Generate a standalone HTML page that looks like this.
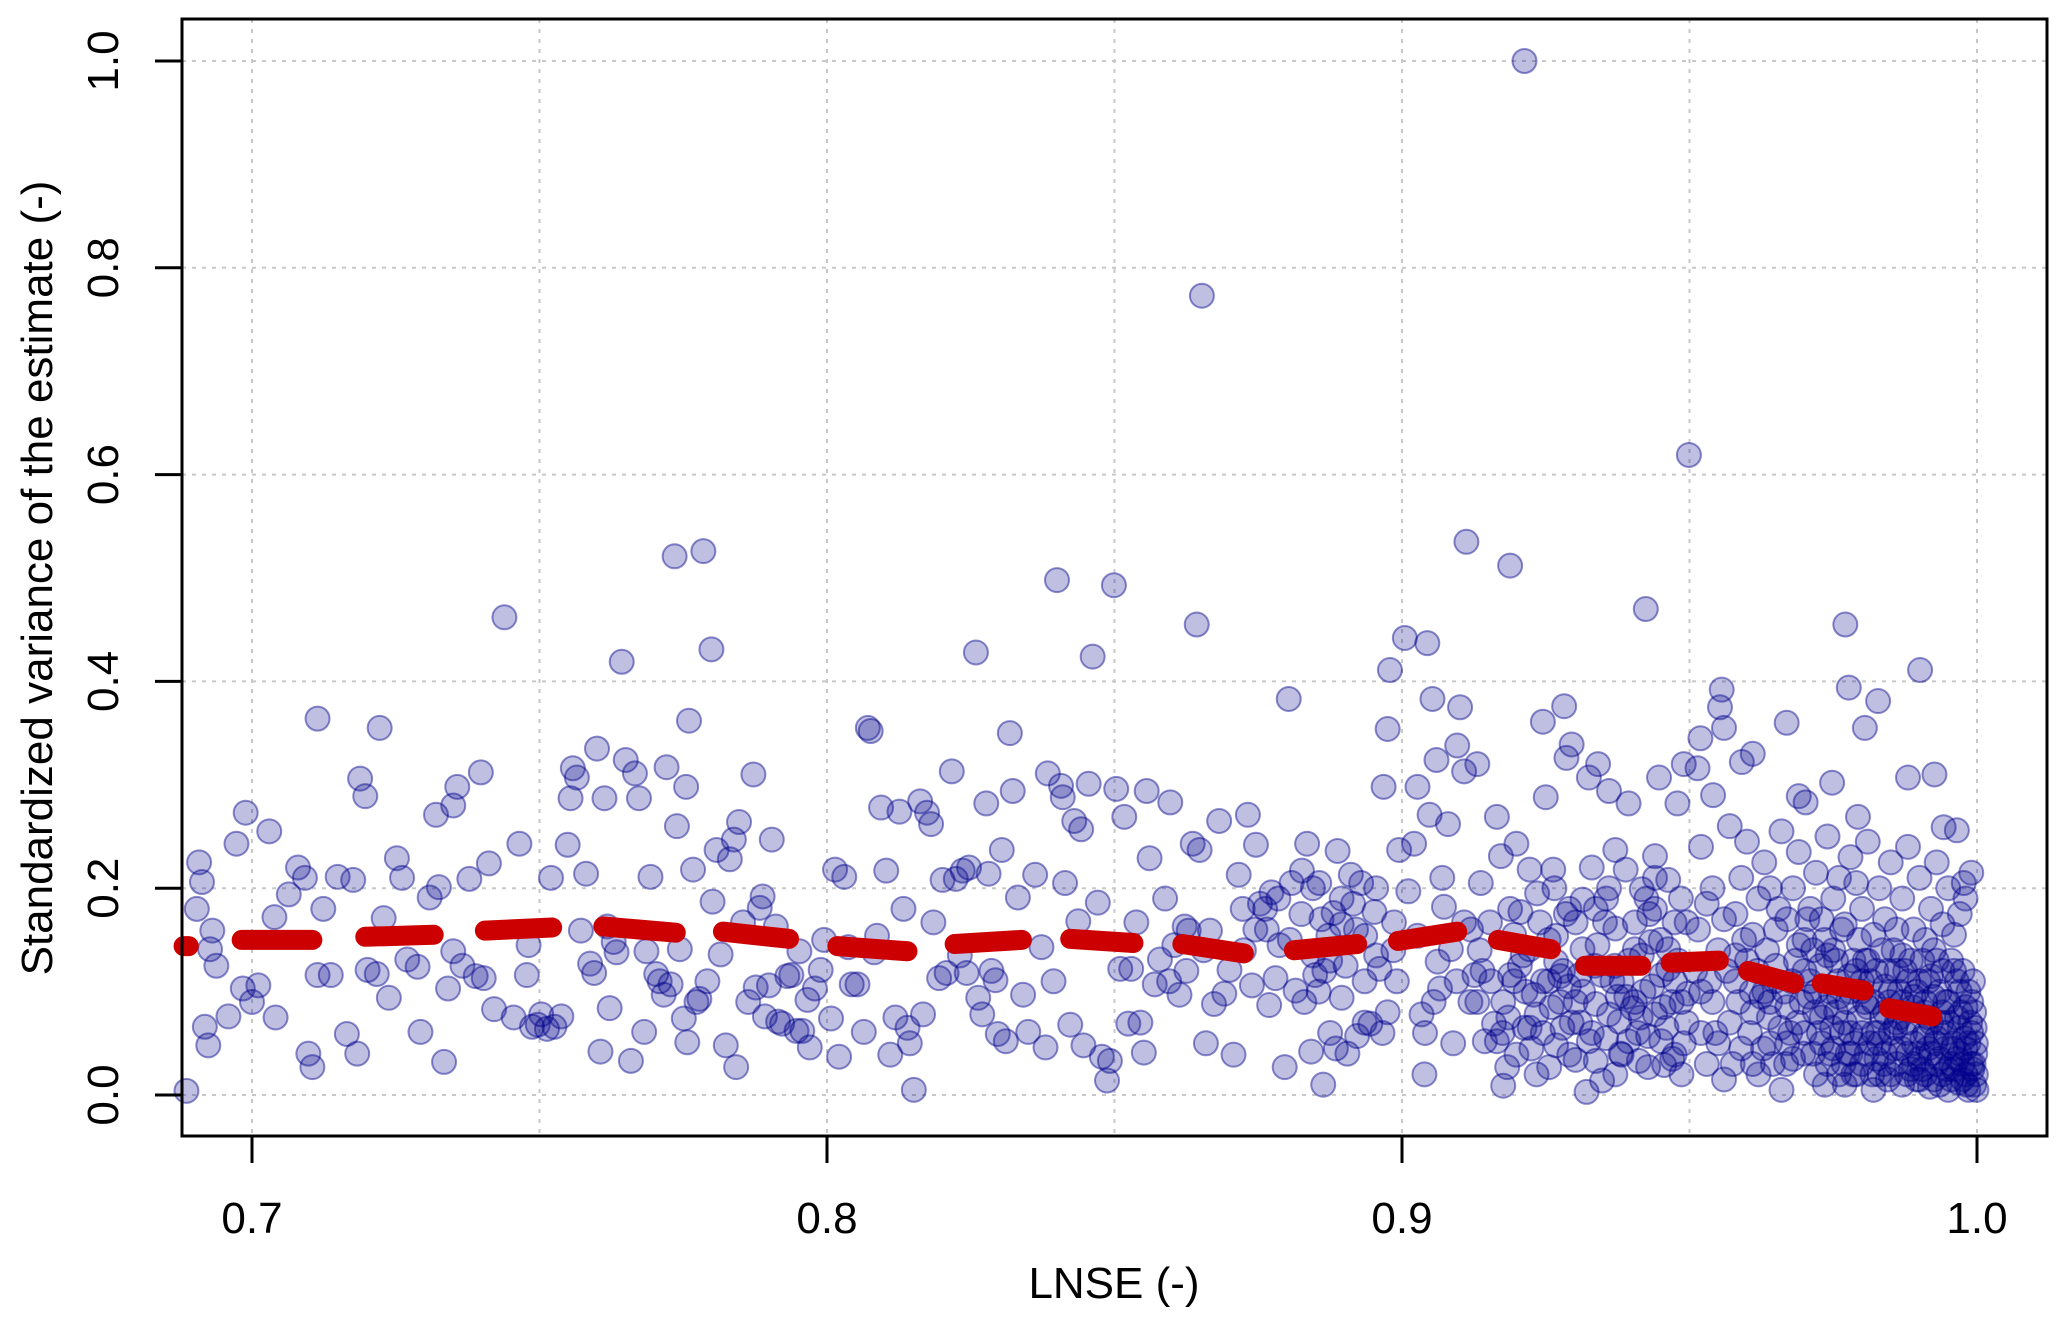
<!DOCTYPE html>
<html><head><meta charset="utf-8"><style>
html,body{margin:0;padding:0;background:#fff;}
svg{display:block;}
text{font-family:"Liberation Sans",sans-serif;fill:#000;}
</style></head><body>
<svg id="chart" width="2067" height="1319" viewBox="0 0 2067 1319" xmlns="http://www.w3.org/2000/svg">
<rect x="0" y="0" width="2067" height="1319" fill="#fff"/>
<g id="grid"></g>
<g id="points"></g>
<g id="trend"></g>
<g id="axes"></g>
<text x="1114" y="1298" font-size="44" text-anchor="middle">LNSE (-)</text>
<text transform="translate(52,578) rotate(-90)" font-size="44" text-anchor="middle">Standardized variance of the estimate (-)</text>
</svg>
<script>
const xTicks=[0.7,0.8,0.9,1.0];
const xTickLabels=["0.7","0.8","0.9","1.0"];
const xGrid=[0.7,0.75,0.8,0.85,0.9,0.95,1.0];
const yTicks=[0,0.2,0.4,0.6,0.8,1.0];
const yTickLabels=["0.0","0.2","0.4","0.6","0.8","1.0"];
const trendStartX=[0.6881,0.6982,0.7197,0.7405,0.7611,0.7819,0.8018,0.8222,0.8423,0.8618,0.8812,0.8993,0.9167,0.9318,0.9467,0.9602,0.973,0.9847];
const trendEndX=[0.6890,0.7105,0.7316,0.7522,0.7737,0.7934,0.814,0.8339,0.8533,0.8725,0.8922,0.9096,0.9259,0.9416,0.9551,0.9682,0.9803,0.9922];
const trendStartY=[0.144,0.150,0.153,0.159,0.163,0.158,0.144,0.146,0.151,0.146,0.140,0.149,0.150,0.125,0.128,0.120,0.108,0.084];
const trendEndY=[0.144,0.150,0.155,0.162,0.157,0.151,0.139,0.150,0.147,0.137,0.146,0.158,0.141,0.125,0.130,0.108,0.101,0.076];
const observations=[
[.6886,.004],[.6904,.18],[.6908,.225],[.6913,.206],[.6918,.066],[.6924,.048],[.6931,.159],[.6938,.125],[.6927,.141],[.6959,.076],[.6973,.243],[.6989,.273],[.6984,.103],[.7,.09],[.7011,.106],[.703,.255],[.7039,.172],[.7041,.075],[.7064,.194],[.708,.22],[.7092,.21],[.7098,.04],[.7105,.027],[.7114,.364],[.7114,.116],[.7124,.18],[.7137,.116],[.7149,.211],[.7165,.059],[.7176,.208],[.7183,.04],[.7188,.306],[.7197,.289],[.7201,.121],[.7217,.117],[.7222,.355],[.7229,.171],[.7238,.094],[.7252,.229],[.7261,.21],[.727,.131],[.7288,.124],[.7293,.061],[.7309,.191],[.732,.271],[.7325,.201],[.7334,.032],[.7341,.103],[.735,.139],[.735,.28],[.7357,.298],[.7366,.125],[.7378,.209],[.7389,.115],[.7398,.312],[.7403,.113],[.7412,.224],[.7421,.083],[.7439,.462],[.7455,.075],[.7465,.243],[.7478,.116],[.7481,.145],[.7487,.066],[.7497,.068],
[.7503,.078],[.7513,.064],[.752,.21],[.7526,.066],[.7538,.076],[.7549,.242],[.7554,.287],[.7558,.316],[.7565,.307],[.7572,.159],[.7581,.214],[.7588,.127],[.7595,.118],[.76,.335],[.7606,.042],[.7613,.287],[.7618,.163],[.7622,.084],[.7629,.148],[.7634,.138],[.7643,.419],[.765,.324],[.7659,.033],[.7666,.311],[.7673,.287],[.7682,.061],[.7686,.139],[.7693,.211],[.7703,.117],[.7709,.11],[.7716,.097],[.7721,.317],[.7728,.107],[.7735,.521],[.7739,.26],[.7744,.141],[.7751,.074],[.7755,.298],[.7757,.051],[.776,.362],[.7767,.218],[.7773,.09],[.7778,.093],[.7785,.526],[.7792,.11],[.7799,.431],[.7801,.187],[.7808,.237],[.7815,.136],[.7824,.048],[.7831,.228],[.7838,.247],[.7842,.027],[.7847,.264],[.7854,.167],[.7863,.09],[.7872,.31],[.7876,.104],[.7883,.181],[.7888,.192],[.7892,.076],[.7899,.106],[.7904,.247],[.7911,.163],[.7915,.071],[.7922,.069],[.7931,.115],[.7938,.116],[.7947,.062],[.7952,.139],[.7957,.062],[.7966,.092],[.797,.046],[.7979,.103],[.7989,.121],[.7995,.15],
[.8007,.074],[.8014,.218],[.8021,.037],[.803,.211],[.8037,.143],[.8043,.107],[.8053,.107],[.8064,.061],[.8071,.355],[.8076,.352],[.8082,.138],[.8087,.154],[.8094,.278],[.8103,.217],[.811,.039],[.8119,.075],[.8126,.274],[.8133,.18],[.814,.065],[.8144,.05],[.8151,.005],[.8162,.284],[.8167,.078],[.8174,.273],[.8181,.262],[.8185,.167],[.8195,.113],[.8201,.208],[.8208,.118],[.8217,.313],[.8224,.209],[.8231,.135],[.8236,.217],[.8243,.118],[.8247,.22],[.8259,.428],[.8263,.094],[.827,.078],[.8277,.282],[.8281,.214],[.8286,.12],[.8293,.111],[.8297,.059],[.8304,.237],[.8311,.052],[.8318,.35],[.8323,.294],[.8332,.191],[.8341,.097],[.835,.061],[.8362,.213],[.8373,.143],[.838,.046],[.8384,.311],[.8394,.11],[.84,.498],[.8407,.299],[.841,.288],[.8414,.205],[.8423,.068],[.843,.265],[.8437,.168],[.8442,.257],[.8446,.048],[.8455,.301],[.8462,.424],[.8471,.186],[.8478,.037],[.8487,.014],[.8492,.033],[.8499,.493],[.8503,.296],
[.851,.122],[.8517,.269],[.8524,.069],[.8529,.122],[.8538,.167],[.8545,.07],[.8551,.041],[.8556,.294],[.8561,.229],[.857,.107],[.8579,.131],[.8588,.19],[.8597,.283],[.8604,.145],[.8613,.097],[.8622,.163],[.8629,.159],[.8636,.243],[.8643,.455],[.8648,.237],[.8652,.773],[.8659,.05],[.8666,.159],[.8673,.088],[.8682,.265],[.8691,.098],[.87,.121],[.8707,.039],[.8716,.213],[.8723,.18],[.8732,.271],[.8739,.106],[.8746,.242],[.8753,.185],[.8762,.18],[.8769,.087],[.8773,.196],[.878,.113],[.8787,.145],[.8796,.027],[.8803,.383],[.8808,.205],[.8815,.101],[.8826,.217],[.8835,.243],[.8842,.042],[.8849,.116],[.8856,.205],[.8863,.01],[.8872,.154],[.8881,.176],[.8888,.236],[.8895,.094],[.8902,.125],[.8911,.213],[.8922,.057],[.8929,.205],[.8936,.154],[.8945,.069],[.8952,.177],[.8961,.122],[.8968,.298],[.8975,.354],[.8979,.411],[.8986,.167],[.8991,.11],[.8995,.237],[.8966,.06],[.8955,.135],[.8935,.07],[.892,.16],[.8895,.19],[.8885,.045],[.886,.17],[.8845,.135],[.883,.09],[.8865,.12],
[.8765,.16],[.8785,.19],[.8805,.15],[.8825,.175],[.8845,.2],[.8875,.13],[.8895,.165],[.8915,.185],[.8935,.11],[.8955,.2],[.8975,.08],[.8985,.14],[.8905,.04],[.8875,.06],[.8855,.1],[.8725,.14],[.8745,.16],[.8655,.14],[.8625,.12],[.8595,.11],
[.9005,.442],[.9011,.197],[.9021,.243],[.9027,.298],[.9034,.078],[.9039,.02],[.9044,.437],[.9048,.271],[.9053,.383],[.906,.324],[.9066,.103],[.9073,.182],[.908,.262],[.9089,.05],[.9096,.338],[.9101,.375],[.9108,.313],[.9112,.535],[.9119,.09],[.9126,.116],[.9131,.32],[.9137,.205],[.9144,.052],[.9153,.167],[.916,.069],[.9165,.269],[.9172,.231],[.9176,.009],[.9183,.027],[.9188,.512],[.9195,.11],[.9199,.243],[.9206,.177],[.9213,.065],[.9213,1.0],[.9222,.218],[.9229,.097],[.9234,.02],[.924,.167],[.9245,.361],[.925,.288],[.9256,.11],[.9263,.218],[.9268,.048],[.9275,.09],[.9282,.376],[.9286,.326],[.9291,.18],[.9295,.339],[.9302,.034],[.9309,.116],[.9314,.189],[.9321,.003],[.9325,.307],[.933,.22],[.9337,.088],[.9341,.32],[.9348,.014],[.9353,.167],[.936,.294],[.9366,.11],[.9371,.237],[.9378,.071],[.9382,.039],[.9389,.218],[.9394,.282],[.9401,.084],[.9405,.141],[.9412,.033],[.9417,.199],[.9424,.47],[.9428,.057],[.9433,.148],[.944,.231],[.9447,.307],[.9451,.116],[.9456,.029],[.9463,.208],[.9469,.09],[.9474,.167],[.9479,.282],[.9486,.02],[.949,.32],[.9495,.167],[.9499,.619],[.9497,.098],
[.9165,.052],[.9176,.09],[.9188,.116],[.9199,.039],[.921,.135],[.9222,.065],[.9234,.078],[.9245,.11],[.9256,.027],[.9268,.129],[.9279,.065],[.9291,.039],[.9302,.09],[.9314,.141],[.9325,.052],[.9337,.033],[.9348,.116],[.936,.078],[.9371,.02],[.9382,.11],[.9394,.052],[.9405,.09],[.9417,.135],[.9428,.027],[.944,.078],[.9451,.052],[.9463,.122],[.9474,.039],[.9486,.09],[.9302,.167],[.9337,.18],[.9371,.161],[.9405,.167],[.944,.18],[.9463,.141],[.9268,.154],[.9222,.141],[.9188,.18],[.9085,.141],[.9108,.167],[.9131,.09],[.9062,.129],[.9027,.154],
[.9215,.1],[.9245,.06],[.928,.12],[.931,.07],[.934,.145],[.937,.125],[.939,.095],[.941,.06],[.943,.175],[.946,.065],[.948,.13],[.9235,.195],[.9265,.2],[.936,.2],[.944,.21],[.949,.05],[.904,.06],[.907,.21],[.912,.16],[.914,.12],[.9185,.075],[.926,.085],[.929,.105],[.933,.06],[.938,.04],[.942,.1],[.945,.15],[.947,.035],
[.9205,.125],[.9225,.045],[.9255,.15],[.9275,.115],[.9295,.07],[.9315,.1],[.9335,.125],[.9355,.055],[.9375,.095],[.9395,.13],[.9415,.075],[.9435,.105],[.9455,.085],[.9475,.11],[.9495,.07],[.9195,.155],[.9285,.175],[.9355,.19],[.9425,.19],[.9485,.19],[.9055,.09],[.9095,.11],[.9135,.14],[.9155,.11],[.9175,.06],
[.9514,.316],[.9519,.345],[.9556,.392],[.9553,.375],[.956,.355],[.9541,.29],[.9591,.322],[.961,.33],[.9669,.36],[.969,.289],[.9702,.283],[.9748,.302],[.9771,.455],[.9777,.394],[.9793,.269],[.9805,.355],[.9828,.381],[.988,.307],[.9901,.411],[.9926,.31],[.9942,.259],[.9965,.256],[.9977,.205],
[.952,.24],[.954,.2],[.956,.17],[.957,.26],[.959,.21],[.96,.245],[.962,.19],[.963,.225],[.965,.16],[.966,.255],[.968,.2],[.969,.235],[.971,.18],[.972,.215],[.974,.25],[.975,.19],[.977,.165],[.978,.23],[.979,.205],[.98,.18],[.981,.245],[.983,.2],[.984,.17],[.985,.225],[.987,.19],[.988,.24],[.989,.16],[.99,.21],[.992,.18],[.993,.225],[.994,.165],[.995,.2],[.997,.175],[.998,.19],[.999,.215],[.953,.185],[.958,.175],[.961,.155],[.964,.2],[.967,.17],[.97,.15],[.973,.17],[.976,.21],[.982,.155],[.986,.16],[.991,.15],[.996,.155],
[.951,.12],[.952,.06],[.953,.03],[.954,.09],[.955,.14],[.956,.015],[.957,.07],[.958,.11],[.959,.045],[.96,.13],[.961,.08],[.962,.02],[.963,.1],[.964,.05],[.965,.125],[.966,.005],[.967,.085],[.968,.035],[.969,.145],[.97,.06],[.971,.11],[.972,.02],[.973,.075],[.974,.135],[.975,.045],[.976,.095],[.977,.01],[.978,.06],[.979,.12],[.98,.03],[.981,.085],[.982,.005],[.983,.05],[.984,.105],[.985,.02],[.986,.07],[.987,.135],[.988,.04],[.989,.095],[.99,.015],[.991,.06],[.992,.115],[.993,.03],[.994,.08],[.995,.005],[.996,.05],[.997,.1],[.998,.02],[.999,.06],[.9995,.01],
[.952,.1],[.955,.05],[.958,.135],[.961,.03],[.964,.09],[.967,.05],[.97,.12],[.972,.1],[.974,.03],[.975,.14],[.977,.07],[.978,.1],[.979,.02],[.98,.06],[.981,.13],[.982,.09],[.983,.02],[.984,.04],[.985,.1],[.986,.12],[.987,.01],[.988,.07],[.989,.03],[.99,.11],[.991,.09],[.992,.04],[.993,.13],[.994,.02],[.995,.07],[.996,.12],[.997,.04],[.998,.085],[.999,.03],[.9993,.11],[.9997,.04],
[.973,.05],[.976,.02],[.978,.04],[.98,.11],[.982,.06],[.984,.08],[.985,.06],[.986,.03],[.987,.09],[.988,.11],[.989,.05],[.99,.035],[.991,.02],[.992,.07],[.993,.055],[.994,.12],[.995,.09],[.996,.025],[.997,.065],[.998,.045],[.999,.09],[.9998,.02],[.9985,.005],[.9975,.015],[.9965,.035],[.9955,.03],[.9945,.045],[.9935,.01],[.9925,.095],[.9915,.075],[.9905,.055],[.9895,.015],[.9885,.025],[.9875,.06],[.9865,.1],[.9855,.045],[.9845,.015],[.9835,.075],[.9825,.035],[.9815,.05],[.9805,.09],[.9795,.075],[.9785,.13],[.9775,.04],[.9765,.06],[.9755,.08],[.9745,.1],[.9735,.01],[.9725,.06],[.9715,.04],
[.9905,.025],[.9915,.045],[.9925,.015],[.9935,.035],[.9945,.06],[.9955,.015],[.9965,.075],[.9975,.03],[.9985,.05],[.9992,.025],[.9996,.065],[.9999,.005],[.9982,.01],[.9968,.012],[.9958,.045],[.9948,.025],[.9938,.07],[.9928,.05],[.9918,.008],[.9908,.08],[.9898,.04],[.9888,.085],[.9878,.02],[.9868,.045],[.9858,.065],[.9848,.09],[.9838,.03],[.9828,.06],[.9818,.02],[.9808,.04],[.9798,.1],[.9788,.05],[.9778,.115],[.9768,.03],[.9758,.11],[.9748,.065],[.9738,.085],[.9728,.125],[.9718,.08],[.9708,.095],[.9698,.04],[.9688,.07],[.9678,.11],[.9668,.03],[.9658,.065],[.9648,.11],[.9638,.075],[.9628,.045],[.9618,.12],[.9608,.1],
[.9515,.16],[.9535,.11],[.9545,.06],[.9565,.12],[.9575,.03],[.9585,.09],[.9595,.15],[.9605,.06],[.9625,.095],[.9635,.14],[.9645,.03],[.9655,.18],[.9665,.1],[.9675,.06],[.9685,.13],[.9695,.09],[.9705,.17],[.9715,.14],[.9735,.15],[.9745,.04],[.9755,.13],[.9765,.16],[.9775,.09],[.9785,.02],[.9795,.15],[.9805,.13],[.9815,.11],[.9825,.12],[.9835,.14],[.9845,.12],[.9855,.14],[.9865,.075],[.9875,.12],[.9885,.13],[.9895,.1],[.9905,.13],[.9915,.11],[.9925,.14],[.9935,.1],[.9945,.09],[.9955,.13],[.9965,.11],[.9975,.12],[.9985,.1],[.9995,.08],[.9998,.05],[.9994,.03],[.9988,.07],[.9978,.055],[.9972,.08]
];
const PX0=182,PX1=2047,PY0=1136,PY1=19;
const sx=v=>252+(v-0.7)*5750;
const sy=v=>1095-v*1034;
const NS="http://www.w3.org/2000/svg";
function mk(tag,attrs,parent){const e=document.createElementNS(NS,tag);for(const k in attrs)e.setAttribute(k,attrs[k]);parent.appendChild(e);return e;}
const grid=document.getElementById('grid'),pts=document.getElementById('points'),trend=document.getElementById('trend'),axes=document.getElementById('axes');
xGrid.forEach(v=>{const l=mk('line',{x1:sx(v),x2:sx(v),y1:PY1,y2:PY0,stroke:'#c8c8c8','stroke-width':2,'stroke-dasharray':'4 6'},grid);

});
yTicks.forEach(v=>{const l=mk('line',{x1:PX0,x2:PX1,y1:sy(v),y2:sy(v),stroke:'#c8c8c8','stroke-width':2,'stroke-dasharray':'4 6'},grid);

});
observations.forEach(p=>{const c=mk('circle',{cx:sx(p[0]),cy:sy(p[1]),r:12,fill:'rgba(0,0,139,0.25)',stroke:'rgba(0,0,139,0.45)','stroke-width':2},pts);

});
trendStartX.forEach((v,i)=>{const l=mk('line',{x1:sx(v),y1:sy(trendStartY[i]),x2:sx(trendEndX[i]),y2:sy(trendEndY[i]),stroke:'#cc0000','stroke-width':20,'stroke-linecap':'round'},trend);

});
const box=mk('rect',{x:PX0,y:PY1,width:PX1-PX0,height:PY0-PY1,fill:'none',stroke:'#000','stroke-width':3},axes);


xTicks.forEach((v,i)=>{const t=mk('line',{x1:sx(v),x2:sx(v),y1:PY0,y2:PY0+27,stroke:'#000','stroke-width':3},axes);


const tx=mk('text',{x:sx(v),y:1233,'font-size':44,'text-anchor':'middle'},axes);tx.textContent=xTickLabels[i];

});
yTicks.forEach((v,i)=>{const t=mk('line',{x1:PX0-27,x2:PX0,y1:sy(v),y2:sy(v),stroke:'#000','stroke-width':3},axes);


const tx=mk('text',{transform:`translate(118,${sy(v)}) rotate(-90)`,'font-size':44,'text-anchor':'middle'},axes);tx.textContent=yTickLabels[i];

});
</script>
</body></html>
